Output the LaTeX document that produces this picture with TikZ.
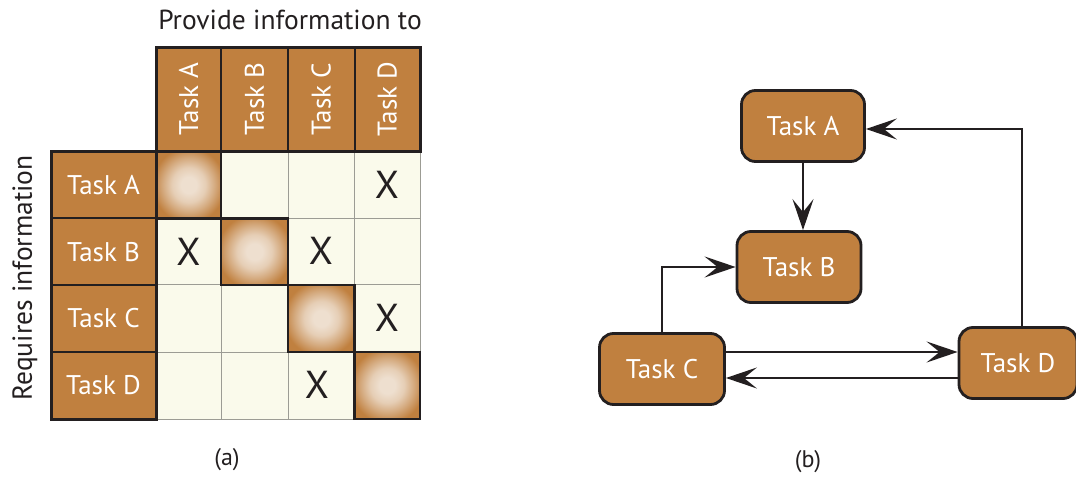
\documentclass[tikz,border=0pt]{standalone}
\usepackage{fontspec}
\setmainfont{PT Sans}
\usetikzlibrary{arrows.meta}
\definecolor{taskbrown}{HTML}{C0803F}
\definecolor{cream}{HTML}{FAFAEB}
\definecolor{inkdark}{HTML}{231F20}
\definecolor{gridgrey}{HTML}{9C9C94}
\definecolor{glow}{HTML}{EEDFCF}
\colorlet{glowhi}{glow!82!taskbrown}
\colorlet{glowmid}{glow!45!taskbrown}
\pgfdeclareradialshading{cellglow}{\pgfpoint{0bp}{0bp}}{%
  color(0bp)=(glow); color(6bp)=(glow); color(13bp)=(glowhi);
  color(20bp)=(glowmid); color(28bp)=(taskbrown); color(50bp)=(taskbrown)}
\tikzset{
  hdrcell/.style={fill=taskbrown, draw=inkdark, line width=2pt},
  creamcell/.style={fill=cream, draw=gridgrey, line width=1pt},
  diagcell/.style={shading=cellglow, draw=inkdark, line width=2.2pt},
  hdrtext/.style={text=white, font=\fontsize{27}{30}\selectfont, inner sep=0pt},
  xmark/.style={text=inkdark, font=\fontsize{39}{42}\selectfont, inner sep=0pt},
  plaintext/.style={text=inkdark, font=\fontsize{27.5}{30}\selectfont, inner sep=0pt},
  captext/.style={text=inkdark, font=\fontsize{24}{27}\selectfont, inner sep=0pt},
  taskbox/.style={rectangle, rounded corners=14pt, fill=taskbrown, draw=inkdark, line width=2.8pt,
    minimum height=71pt, text=white, font=\fontsize{27}{30}\selectfont},
  flow/.style={draw=inkdark, line width=2.8pt, -{Stealth[length=31pt, width=21pt, inset=13pt]}}
}
\begin{document}
\begin{tikzpicture}[x=1pt, y=-1pt]
\useasboundingbox (0,0) rectangle (1076,478);

% ---------- (a) dependency structure matrix ----------
\def\cx{{156.5,221,288,354.5,420}}
\def\ry{{151.5,218.5,285,352,419}}

% cream body with its light grid
\foreach \i in {0,...,3}{
  \foreach \j in {0,...,3}{
    \pgfmathsetmacro{\xa}{\cx[\j]}\pgfmathsetmacro{\xb}{\cx[\j+1]}
    \pgfmathsetmacro{\ya}{\ry[\i]}\pgfmathsetmacro{\yb}{\ry[\i+1]}
    \path[creamcell] (\xa,\ya) rectangle (\xb,\yb);
  }
}
% shaded diagonal cells
\foreach \k in {0,...,3}{
  \pgfmathsetmacro{\xa}{\cx[\k]}\pgfmathsetmacro{\xb}{\cx[\k+1]}
  \pgfmathsetmacro{\ya}{\ry[\k]}\pgfmathsetmacro{\yb}{\ry[\k+1]}
  \path[diagcell] (\xa,\ya) rectangle (\xb,\yb);
}

% column headers
\foreach \j/\t in {0/A,1/B,2/C,3/D}{
  \pgfmathsetmacro{\xa}{\cx[\j]}\pgfmathsetmacro{\xb}{\cx[\j+1]}
  \path[hdrcell] (\xa,48) rectangle (\xb,151.5);
  \node[hdrtext, rotate=90] (col\t) at ({(\xa+\xb)/2},99) {Task \t};
}
\draw[inkdark, line width=3pt] (156.5,48) rectangle (420,151.5);

% row headers
\foreach \i/\t in {0/A,1/B,2/C,3/D}{
  \pgfmathsetmacro{\ya}{\ry[\i]}\pgfmathsetmacro{\yb}{\ry[\i+1]}
  \path[hdrcell] (51,\ya) rectangle (156.5,\yb);
  \node[hdrtext] (row\t) at (103.5,{(\ya+\yb)/2}) {Task \t};
}
\draw[inkdark, line width=3pt] (51,151.5) rectangle (156.5,419);

% dependency marks
\node[xmark] (xAD) at (387,185) {X};
\node[xmark] (xBA) at (188.5,252) {X};
\node[xmark] (xBC) at (321,251) {X};
\node[xmark] (xCD) at (387,318) {X};
\node[xmark] (xDC) at (317,385) {X};

% axis titles and caption
\node[plaintext] (provide) at (290,20) {Provide information to};
\node[plaintext, rotate=90] (requires) at (25,278) {Requires information};
\node[captext] (capa) at (227,460) {(a)};

% ---------- (b) task graph ----------
\node[taskbox, minimum width=123pt] (A) at (803,126) {Task A};
\node[taskbox, minimum width=124pt] (B) at (799,267) {Task B};
\node[taskbox, minimum width=125pt] (C) at (662,369) {Task C};
\node[taskbox, minimum width=118pt] (D) at (1018,363) {Task D};

\draw[flow] (A.south) -- (A.south |- B.north);
\draw[flow] ([xshift=4pt]D.north) |- ([yshift=-3pt]A.east);
\draw[flow] (C.north) |- (B.west);
\coordinate (cd) at ([yshift=17pt]C.east);
\coordinate (dc) at ([yshift=-9pt]C.east);
\draw[flow] (cd) -- (cd -| D.west);
\draw[flow] (dc -| D.west) -- (dc);

\node[captext] (capb) at (808,462) {(b)};
\end{tikzpicture}
\end{document}
